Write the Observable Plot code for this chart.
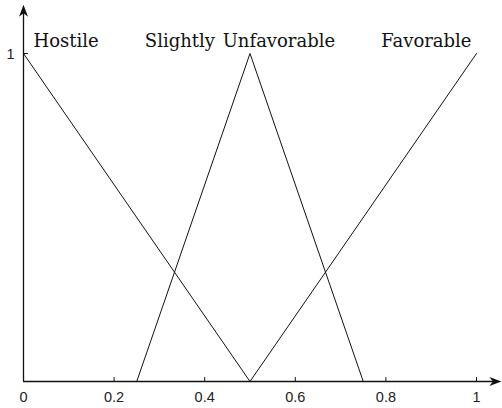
<!DOCTYPE html>
<html>
<head>
<meta charset="utf-8">
<script src="https://cdn.jsdelivr.net/npm/d3@7"></script>
<script src="https://cdn.jsdelivr.net/npm/@observablehq/plot@0.6"></script>
<style>
  html, body { margin: 0; padding: 0; background: #fff; }
</style>
</head>
<body>
<div id="chart"></div>
<script>
// Membership functions: breakpoints of each piecewise-linear series
const seriesNames = ["Hostile", "Slightly Unfavorable", "Favorable"];
const seriesX = [[0, 0.5], [0.25, 0.5, 0.75], [0.5, 1]];
const seriesY = [[1, 0], [0, 1, 0], [0, 1]];
const xTicks = [0, 0.2, 0.4, 0.6, 0.8, 1];
const yTicks = [1];

// Axis arrows run slightly past the unit domain
const xAxisEnd = 1.055;
const yAxisEnd = 1.149;

const points = seriesNames.flatMap((name, k) =>
  seriesX[k].map((x, i) => ({name, x, y: seriesY[k][i]}))
);
// Each label sits above the series' peak (membership = 1)
const peaks = seriesNames.map((name, k) => {
  const i = seriesY[k].indexOf(1);
  return {name, x: seriesX[k][i], y: seriesY[k][i]};
});

// Stealth arrowhead pointing up, tip at the origin
const stealth = {
  draw(ctx) {
    ctx.moveTo(0, 0);
    ctx.lineTo(-4.5, 12);
    ctx.lineTo(0, 8.5);
    ctx.lineTo(4.5, 12);
    ctx.closePath();
  }
};
// Plain short stroke used for inward tick marks
const spike = {
  draw(ctx, l) {
    ctx.moveTo(0, 0);
    ctx.lineTo(0, -l);
  }
};

const labelStyle = {
  x: "x", y: "y", text: "name",
  fontFamily: "DejaVu Serif, serif",
  fontSize: 18,
  lineAnchor: "bottom",
  dy: -7,
  fill: "#111"
};

const tickTextStyle = {
  text: d => String(d),
  fontFamily: "Liberation Sans, Arial, sans-serif",
  fontSize: 14.5,
  fill: "#222"
};

const chart = Plot.plot({
  width: 502,
  height: 408,
  marginLeft: 23,
  marginRight: 26,
  marginTop: 53,
  marginBottom: 27,
  x: {domain: [0, 1], axis: null},
  y: {domain: [0, 1], axis: null},
  style: {
    fontFamily: "Liberation Sans, Arial, sans-serif",
    background: "#fff",
    color: "#111"
  },
  marks: [
    // tick labels
    Plot.text(xTicks, {...tickTextStyle, x: d => d, y: 0, lineAnchor: "top", dy: 10}),
    Plot.text(yTicks, {...tickTextStyle, x: 0, y: d => d, textAnchor: "end", dx: -9, dy: 1}),
    // inward tick marks
    Plot.vector(xTicks.slice(1), {x: d => d, y: 0, length: 4, rotate: 0, anchor: "start", shape: spike, strokeWidth: 1}),
    Plot.vector(yTicks, {x: 0, y: d => d, length: 4, rotate: 90, anchor: "start", shape: spike, strokeWidth: 1}),
    // axes with arrowheads
    Plot.ruleY([0], {x1: 0, x2: xAxisEnd - 0.015, strokeWidth: 1.3}),
    Plot.ruleX([0], {y1: 0, y2: yAxisEnd - 0.02, strokeWidth: 1.3}),
    Plot.dot([{x: xAxisEnd, y: 0}], {x: "x", y: "y", symbol: stealth, rotate: 90, fill: "#111", stroke: "none"}),
    Plot.dot([{x: 0, y: yAxisEnd}], {x: "x", y: "y", symbol: stealth, rotate: 0, fill: "#111", stroke: "none"}),
    // membership functions
    Plot.line(points, {x: "x", y: "y", z: "name", stroke: "#111", strokeWidth: 1}),
    // series labels
    Plot.text(peaks.slice(0, 1), {...labelStyle, textAnchor: "start", dx: 10}),
    Plot.text(peaks.slice(1, 2), {...labelStyle, dx: -10}),
    Plot.text(peaks.slice(2), {...labelStyle, textAnchor: "end", dx: -5})
  ]
});

// Serif series labels get slightly wider word spacing
d3.select(chart).selectAll("text").each(function() {
  if (seriesNames.includes(this.textContent)) d3.select(this).style("word-spacing", "2px");
});

document.getElementById("chart").append(chart);
</script>
</body>
</html>
